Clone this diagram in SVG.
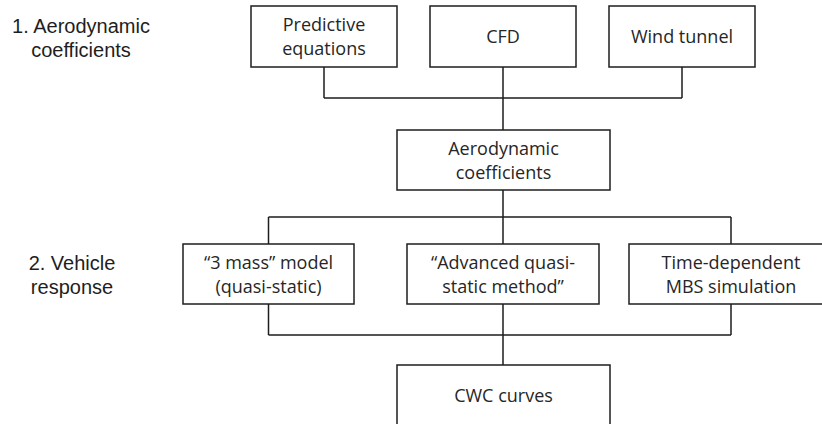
<svg xmlns="http://www.w3.org/2000/svg" width="822" height="424" viewBox="0 0 822 424">
<style>
.box{fill:#fff;stroke:#1e1e1e;stroke-width:1.5}
.bt{font-family:"Open Sans","Noto Sans",sans-serif;font-size:18px;fill:#262626;text-anchor:middle}
.lbl{font-family:"Liberation Sans",Arial,sans-serif;font-size:20px;fill:#1e1e1e;text-anchor:middle}
.con{fill:none;stroke:#1e1e1e;stroke-width:1.5}
</style>
<rect width="822" height="424" fill="#fff"/>
<g id="label1"><text class="lbl" x="81" y="33">1. Aerodynamic</text><text class="lbl" x="81" y="57">coefficients</text></g>
<g id="label2"><text class="lbl" x="72" y="270">2. Vehicle</text><text class="lbl" x="72" y="294">response</text></g>
<g id="connectors">
<path class="con" d="M324 67V98M503 67V98M682 67V98M324 98H682M503 98V130"/>
<path class="con" d="M503 190V217M268.5 217H731M268.5 217V244M503 217V244M731 217V244"/>
<path class="con" d="M268.5 304V335M503 304V335M731 304V335M268.5 335H731M503 335V365"/>
</g>
<g id="predictive"><rect class="box" x="251" y="6" width="146" height="61"/><text class="bt" x="324" y="31">Predictive</text><text class="bt" x="324" y="55">equations</text></g>
<g id="cfd"><rect class="box" x="430" y="6" width="146" height="61"/><text class="bt" x="503" y="43">CFD</text></g>
<g id="windtunnel"><rect class="box" x="609" y="6" width="146" height="61"/><text class="bt" x="682" y="43">Wind tunnel</text></g>
<g id="aerocoef"><rect class="box" x="397" y="130" width="213" height="60"/><text class="bt" x="503.5" y="154.5">Aerodynamic</text><text class="bt" x="503.5" y="178.5">coefficients</text></g>
<g id="threemass"><rect class="box" x="183" y="244" width="171" height="60"/><text class="bt" x="268.5" y="268.5">“3 mass” model</text><text class="bt" x="268.5" y="292.5">(quasi-static)</text></g>
<g id="advanced"><rect class="box" x="407" y="244" width="192" height="60"/><text class="bt" x="503" y="268.5">“Advanced quasi-</text><text class="bt" x="503" y="292.5">static method”</text></g>
<g id="timedep"><rect class="box" x="629" y="244" width="204" height="60"/><text class="bt" x="731" y="268.5">Time-dependent</text><text class="bt" x="731" y="292.5">MBS simulation</text></g>
<g id="cwc"><rect class="box" x="397" y="365" width="213" height="62"/><text class="bt" x="503.5" y="401.5">CWC curves</text></g>
</svg>
